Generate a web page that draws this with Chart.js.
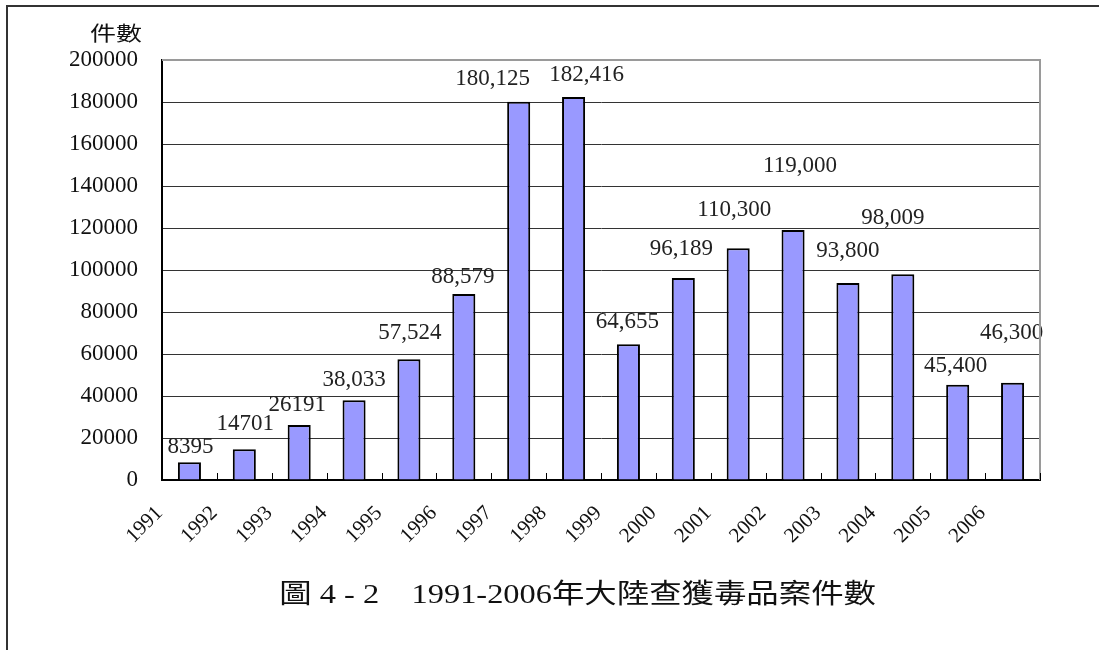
<!DOCTYPE html>
<html lang="zh-Hant">
<head>
<meta charset="utf-8">
<title>1991-2006年大陸查獲毒品案件數</title>
<script src="https://cdn.jsdelivr.net/npm/chart.js@4/dist/chart.umd.min.js"></script>
<style>
  html, body { margin: 0; padding: 0; background: #fff; }
  #wrap { position: relative; width: 1099px; height: 650px; overflow: hidden; }
  #frame { position: absolute; left: 6px; top: 5px; right: -4px; bottom: -4px; border-left: 2px solid #333; border-top: 2px solid #333; pointer-events: none; }
  #unit { position: absolute; left: 90px; top: 18px; line-height: 24px; font: 20px "Noto Sans CJK TC", "Noto Sans CJK SC", sans-serif; color: #111; transform: scaleX(1.3); transform-origin: 0 0; white-space: nowrap; }
  #caption { position: absolute; left: 0; width: 1156px; top: 580px; line-height: 28px; text-align: center; font-size: 27px; font-family: "Liberation Serif", "Noto Sans CJK TC", serif; color: #111; white-space: pre; }
  #caption span { display: inline-block; transform: scaleX(1.2); }
  canvas { position: absolute; left: 0; top: 0; }
</style>
</head>
<body>
<div id="wrap">
  <canvas id="chart" width="1099" height="650"></canvas>
  <div id="frame"></div>
  <div id="unit">件數</div>
  <div id="caption"><span id="caption-text"></span></div>
</div>
<script>
(() => {
  'use strict';
  const YEARS = ['1991','1992','1993','1994','1995','1996','1997','1998','1999','2000','2001','2002','2003','2004','2005','2006'];
  const CASES = [8395, 14701, 26191, 38033, 57524, 88579, 180125, 182416, 64655, 96189, 110300, 119000, 93800, 98009, 45400, 46300];
  const CASE_LABELS = ['8395','14701','26191','38,033','57,524','88,579','180,125','182,416','64,655','96,189','110,300','119,000','93,800','98,009','45,400','46,300'];
  const Y_MAX = 200000, Y_STEP = 20000;
  const TITLE = '圖 4 - 2　1991-2006年大陸查獲毒品案件數';

  // hand placement of the value labels in the original figure (px from bar top centre)
  const LABEL_DX = [1, 1, -2, 0, 1, -1, -26, 13, -1, -2, -4, 7, 0, -10, -2, -1];
  const LABEL_DY = [-15, -25, -20, -20, -26, -17, -23, -22, -22, -29, -38, -64, -32, -56, -19, -50];

  const SERIF = '"Liberation Serif", "Times New Roman", serif';

  document.getElementById('caption-text').textContent = TITLE;

  const valueLabels = {
    id: 'valueLabels',
    afterDatasetsDraw(chart) {
      const { ctx } = chart;
      const meta = chart.getDatasetMeta(0);
      ctx.save();
      ctx.font = `23px ${SERIF}`;
      ctx.fillStyle = '#222';
      ctx.textAlign = 'center';
      ctx.textBaseline = 'middle';
      meta.data.forEach((bar, i) => {
        ctx.fillText(CASE_LABELS[i], bar.x + LABEL_DX[i], bar.y + LABEL_DY[i]);
      });
      ctx.restore();
    }
  };

  const plotFrame = {
    id: 'plotFrame',
    afterDraw(chart) {
      const { ctx, chartArea: a } = chart;
      const x = chart.scales.x;
      ctx.save();
      ctx.strokeStyle = '#9a9a9a';
      ctx.lineWidth = 2;
      ctx.beginPath();
      ctx.moveTo(a.left, a.top); ctx.lineTo(a.right, a.top); ctx.lineTo(a.right, a.bottom);
      ctx.stroke();
      ctx.strokeStyle = '#000';
      ctx.lineWidth = 1;
      ctx.beginPath();
      for (let i = 0; i <= YEARS.length; i++) {
        const px = Math.round(x.getPixelForValue(i - 0.5)) + 0.5;
        ctx.moveTo(px, a.bottom); ctx.lineTo(px, a.bottom - 7);
      }
      ctx.stroke();
      ctx.restore();
    }
  };

  new Chart(document.getElementById('chart'), {
    type: 'bar',
    data: {
      labels: YEARS,
      datasets: [{
        data: CASES,
        backgroundColor: '#9999ff',
        borderColor: '#000',
        borderWidth: 2,
        barPercentage: 0.42,
        categoryPercentage: 1
      }]
    },
    options: {
      responsive: false,
      animation: false,
      layout: { padding: { left: 40, right: 59, top: 60, bottom: 85 } },
      plugins: {
        legend: { display: false },
        tooltip: { enabled: false },
        title: { display: false }
      },
      scales: {
        x: {
          grid: { display: false, drawTicks: false },
          border: { color: '#000', width: 2 },
          ticks: {
            color: '#111',
            font: { family: SERIF, size: 21 },
            minRotation: 45, maxRotation: 45,
            labelOffset: -30,
            padding: 21
          },
          afterFit: s => { s.height = 85; }
        },
        y: {
          min: 0, max: Y_MAX,
          grid: { color: '#333', lineWidth: 1, drawTicks: false },
          border: { color: '#000', width: 2 },
          ticks: {
            stepSize: Y_STEP,
            color: '#111',
            font: { family: SERIF, size: 23 },
            padding: 24,
            callback: v => String(v)
          },
          afterFit: s => { s.width = 122; }
        }
      }
    },
    plugins: [valueLabels, plotFrame]
  });
})();
</script>
</body>
</html>
